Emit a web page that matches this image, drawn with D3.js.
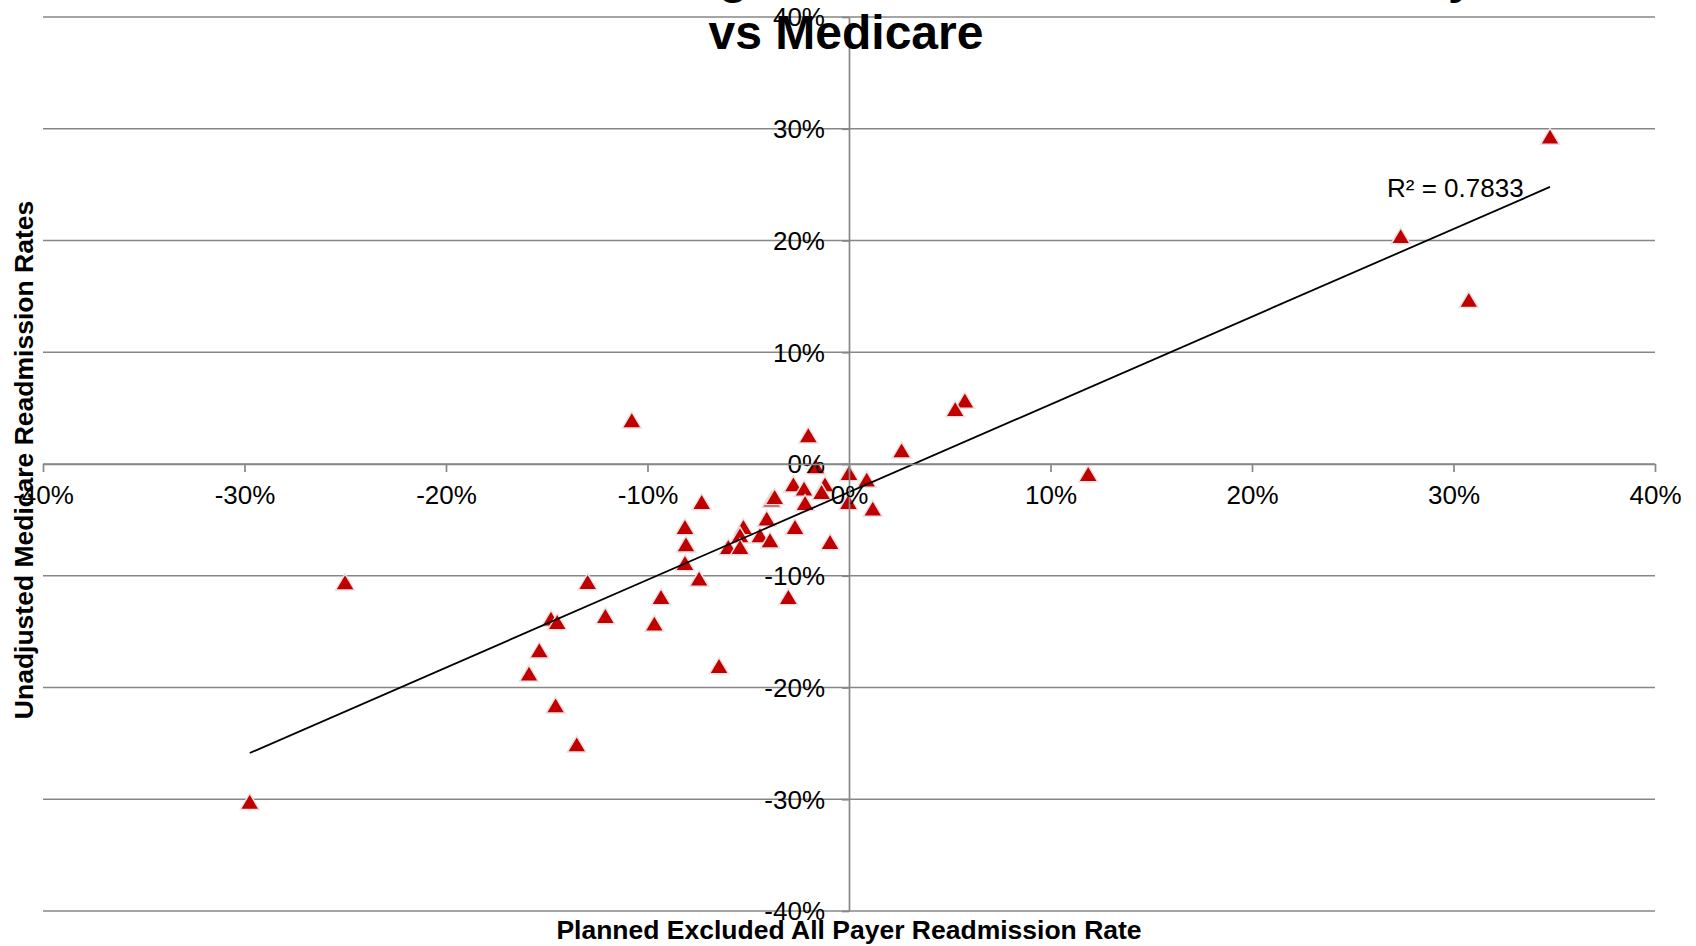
<!DOCTYPE html>
<html><head><meta charset="utf-8">
<script src="https://cdn.jsdelivr.net/npm/d3@7"></script>
<style>
body{margin:0;background:#fff}
svg{display:block}
text{font-family:"Liberation Sans",Arial,Helvetica,sans-serif}
</style>
</head><body>
<svg id="chart" width="1696" height="946"></svg>
<script>
// ---- data (percent) ----
const titleLines = ["Statewide Percent Change in Readmission Rates: All Payer", "vs Medicare"];
const xAxisTitle = "Planned Excluded All Payer Readmission Rate";
const yAxisTitle = "Unadjusted Medicare Readmission Rates";
const tickValues = [-40, -30, -20, -10, 0, 10, 20, 30, 40];
const r2Label = "R\u00B2 = 0.7833";

// x: planned excluded all payer readmission rate change (%)
const allPayer = [34.79, 27.38, 30.76, -29.74, -25.01, -10.78, 5.75, 5.27, 2.61, 11.87,
  -2.02, 0.0, 0.88, 1.18, -0.03, -0.94, -2.76, -2.23, -1.64, -1.19,
  -1.36, -2.18, -3.84, -3.69, -7.31, -4.08, -2.68, -5.24, -5.41, -4.42,
  -3.92, -5.99, -5.41, -8.14, -8.09, -8.14, -7.44, -12.97, -9.33, -3.01,
  -14.79, -14.48, -12.09, -9.66, -15.37, -15.88, -6.45, -14.56, -13.51];
// y: unadjusted medicare readmission rate change (%)
const medicare = [29.32, 20.42, 14.71, -30.2, -10.55, 3.94, 5.71, 4.94, 1.25, -0.87,
  2.6, -0.78, -1.37, -3.97, -3.37, -6.95, -1.79, -2.18, -0.18, -1.79,
  -2.48, -3.46, -3.16, -2.92, -3.37, -4.86, -5.61, -5.61, -6.35, -6.35,
  -6.8, -7.4, -7.4, -5.61, -7.16, -8.83, -10.23, -10.53, -11.87, -11.87,
  -13.81, -14.11, -13.57, -14.26, -16.64, -18.73, -18.05, -21.57, -25.06];

// ---- layout ----
const L = 43, R = 1655, T = 17, B = 911;
const svg = d3.select("#chart");
const x = d3.scaleLinear().domain([-40, 40]).range([L, R]);
const y = d3.scaleLinear().domain([-40, 40]).range([B, T]);
const fmt = d => d + "%";
const gridColor = "#878787";

// gridlines
svg.append("g").selectAll("line").data(tickValues).join("line")
  .attr("x1", L).attr("x2", R)
  .attr("y1", d => y(d)).attr("y2", d => y(d))
  .attr("stroke", gridColor).attr("stroke-width", 1.7);

// y axis at x=0
const yAx = svg.append("g").attr("transform", `translate(${x(0)},0)`)
  .call(d3.axisLeft(y).tickValues(tickValues).tickFormat(fmt).tickSize(7).tickSizeOuter(0).tickPadding(17));
// x axis at y=0
const xAx = svg.append("g").attr("transform", `translate(0,${y(0)})`)
  .call(d3.axisBottom(x).tickValues(tickValues).tickFormat(fmt).tickSize(8).tickSizeOuter(0).tickPadding(14));
[yAx, xAx].forEach(g => {
  g.select(".domain").attr("stroke", gridColor).attr("stroke-width", 1.7);
  g.selectAll(".tick line").attr("stroke", gridColor).attr("stroke-width", 1.7);
  g.selectAll(".tick text").attr("font-size", 26).attr("fill", "#000")
    .attr("font-family", '"Liberation Sans",Arial,sans-serif');
});
yAx.selectAll(".tick text").attr("dy", "0.34em");

// markers (triangles)
const tw = 19, th = 16;
const triPath = `M0,${-th / 2}L${tw / 2},${th / 2}L${-tw / 2},${th / 2}Z`;
svg.append("g").selectAll("path").data(allPayer.map((v, i) => [v, medicare[i]])).join("path")
  .attr("d", triPath)
  .attr("transform", d => `translate(${x(d[0])},${y(d[1])})`)
  .attr("fill", "#c00000")
  .attr("stroke", "#ede0e0").attr("stroke-width", 1.5).attr("stroke-linejoin", "miter");

// linear trendline (least squares)
const mx = d3.mean(allPayer), my = d3.mean(medicare);
const sxy = d3.sum(allPayer.map((v, i) => (v - mx) * (medicare[i] - my)));
const sxx = d3.sum(allPayer.map(v => (v - mx) ** 2));
const slope = sxy / sxx, intercept = my - slope * mx;
const x0 = d3.min(allPayer), x1 = d3.max(allPayer);
svg.append("line")
  .attr("x1", x(x0)).attr("y1", y(intercept + slope * x0))
  .attr("x2", x(x1)).attr("y2", y(intercept + slope * x1))
  .attr("stroke", "#000").attr("stroke-width", 1.8);

// tick labels above markers
yAx.raise(); xAx.raise();

// R² label
svg.append("text").attr("x", 1387).attr("y", 197).attr("font-size", 26).text(r2Label);

// axis titles
svg.append("text").attr("x", (L + R) / 2).attr("y", 939).attr("text-anchor", "middle")
  .attr("font-size", 26.5).attr("font-weight", "bold").text(xAxisTitle);
svg.append("text").attr("transform", `translate(33,460) rotate(-90)`).attr("text-anchor", "middle")
  .attr("font-size", 26.5).attr("font-weight", "bold").text(yAxisTitle);

// chart title (first line sits above the visible area)
svg.append("g").selectAll("text").data(titleLines).join("text")
  .attr("x", 846).attr("y", (d, i) => -7 + i * 56)
  .attr("text-anchor", "middle").attr("font-size", 48).attr("font-weight", "bold")
  .text(d => d);
</script>
</body></html>
